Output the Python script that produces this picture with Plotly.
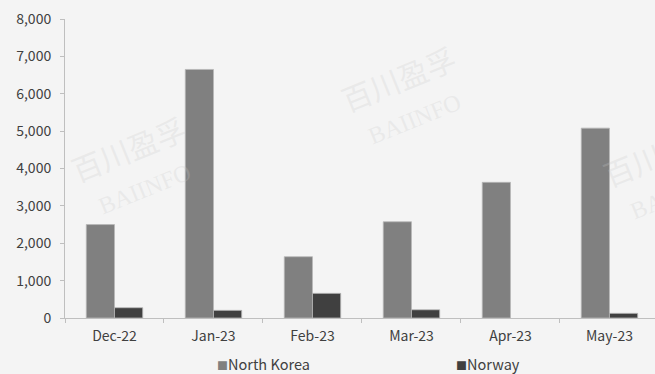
import plotly.graph_objects as go

months = ["Dec-22", "Jan-23", "Feb-23", "Mar-23", "Apr-23", "May-23"]
north_korea = [2500, 6650, 1640, 2575, 3630, 5080]
norway = [275, 205, 660, 220, 0, 125]
y_ticks = [0, 1000, 2000, 3000, 4000, 5000, 6000, 7000, 8000]
series_names = ["North Korea", "Norway"]
series_colors = ["#808080", "#404040"]

FONT = "Noto Sans CJK SC"
fig = go.Figure()
for name, vals, col in zip(series_names, [north_korea, norway], series_colors):
    fig.add_trace(go.Bar(x=months, y=vals, name=name, showlegend=False,
                         marker=dict(color=col,
                                     line=dict(color="#b8b8b8",
                                               width=[0.8 if v else 0 for v in vals]))))

# faint watermarks
for (x, y) in [(0.119, 0.512), (0.576, 0.746), (1.02, 0.495)]:
    fig.add_annotation(xref="paper", yref="paper", x=x, y=y, xanchor="center", yanchor="middle",
                       text="百川盈孚<br><span style='font-family:Liberation Serif;font-size:24px'>BAIINFO</span>",
                       showarrow=False, textangle=-22,
                       font=dict(family=FONT, size=30, color="rgba(200,200,200,0.25)"))

# legend drawn as text entries
for name, col, xp in zip(series_names, series_colors, [215, 454]):
    fig.add_annotation(xref="paper", yref="paper", x=(xp - 65) / 590, y=-46 / 299,
                       xanchor="left", yanchor="middle", showarrow=False,
                       text=f"<span style='color:{col};font-size:11px'>■</span>{name}",
                       font=dict(family=FONT, size=14.5, color="#404040"))

fig.update_layout(
    width=655, height=374,
    margin=dict(l=65, r=0, t=19, b=56),
    paper_bgcolor="#f4f4f4", plot_bgcolor="#f4f4f4",
    barmode="group", bargap=0.43, bargroupgap=0,
    font=dict(family=FONT, size=14, color="#404040"),
    showlegend=False,
)
fig.update_xaxes(range=[-0.5, 5.46], showline=True, linecolor="#bfbfbf", linewidth=1,
                 ticks="outside", tickson="boundaries", ticklen=4, tickcolor="#bfbfbf",
                 showgrid=False, automargin=False, ticklabelstandoff=5,
                 tickfont=dict(size=14, color="#404040"))
fig.update_yaxes(range=[0, 8000], tickvals=y_ticks, tickformat=",", showline=True,
                 linecolor="#bfbfbf", linewidth=1, ticks="outside", ticklen=4,
                 tickcolor="#bfbfbf", showgrid=False, zeroline=False, automargin=False,
                 ticklabelstandoff=6,
                 tickfont=dict(size=14, color="#404040"))

fig.write_html("out.html", config={"displayModeBar": False},
               post_script="document.body.style.margin='0';document.body.style.overflow='hidden';")
